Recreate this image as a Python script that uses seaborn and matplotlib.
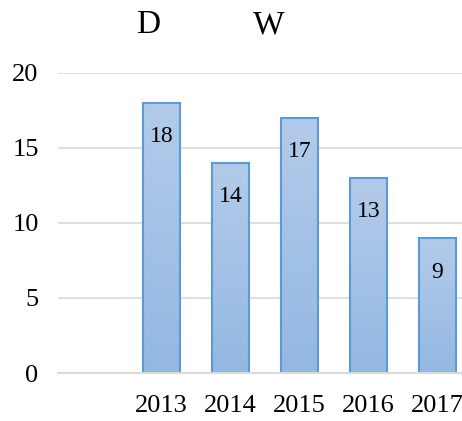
import numpy as np
import pandas as pd
import matplotlib
matplotlib.use("Agg")
import matplotlib.pyplot as plt
import seaborn as sns

# data
years = ["2013", "2014", "2015", "2016", "2017"]
counts = [18, 14, 17, 13, 9]
title_left = "D"
title_right = "W"

sns.set_theme(style="white")
plt.rcParams["font.family"] = ["Liberation Serif", "DejaVu Serif"]
plt.rcParams["text.color"] = "black"

df = pd.DataFrame({"year": years, "count": counts})

fig = plt.figure(figsize=(4.62, 4.21), dpi=100)
ax = fig.add_axes([58 / 462, 48 / 421, 414 / 462, 300 / 421])

sns.barplot(data=df, x="year", y="count", order=years, color="#a5c2e7",
            width=0.54, edgecolor="#5b9bd5", linewidth=1.5, saturation=1, ax=ax)

# soft vertical gradient inside each bar
grad = np.linspace(0, 1, 100).reshape(-1, 1)
cmap = matplotlib.colors.LinearSegmentedColormap.from_list("g", ["#94b8e2", "#b3cbea"])
for p in list(ax.patches):
    x0, y0 = p.get_x(), p.get_y()
    w, h = p.get_width(), p.get_height()
    im = ax.imshow(grad, cmap=cmap, aspect="auto", origin="lower",
                   extent=(x0, x0 + w, y0, y0 + h), zorder=p.get_zorder() - 0.1)
    im.set_clip_path(p)
    p.set_facecolor("none")

for i, v in enumerate(counts):
    ax.annotate(str(v), (i, v), xytext=(0, -34), textcoords="offset pixels",
                ha="center", va="center", fontsize=17, color="black")

ax.set_xlim(-1.5, 4.5)
ax.set_ylim(0, 20)
ax.set_yticks([0, 5, 10, 15, 20])
ax.yaxis.grid(True, color="#d9d9d9", linewidth=1.2)
ax.set_axisbelow(True)
for s in ["top", "right", "left"]:
    ax.spines[s].set_visible(False)
ax.spines["bottom"].set_color("#d9d9d9")
ax.spines["bottom"].set_linewidth(1.5)
ax.set_xlabel("")
ax.set_ylabel("")
ax.tick_params(axis="both", length=0, labelsize=19, colors="black")
ax.tick_params(axis="y", pad=14)
ax.tick_params(axis="x", pad=16)

fig.text(148 / 462, 1 - 25 / 421, title_left, ha="center", va="center", fontsize=24)
fig.text(269 / 462, 1 - 25 / 421, title_right, ha="center", va="center", fontsize=24)

fig.savefig("out.png", dpi=100)
